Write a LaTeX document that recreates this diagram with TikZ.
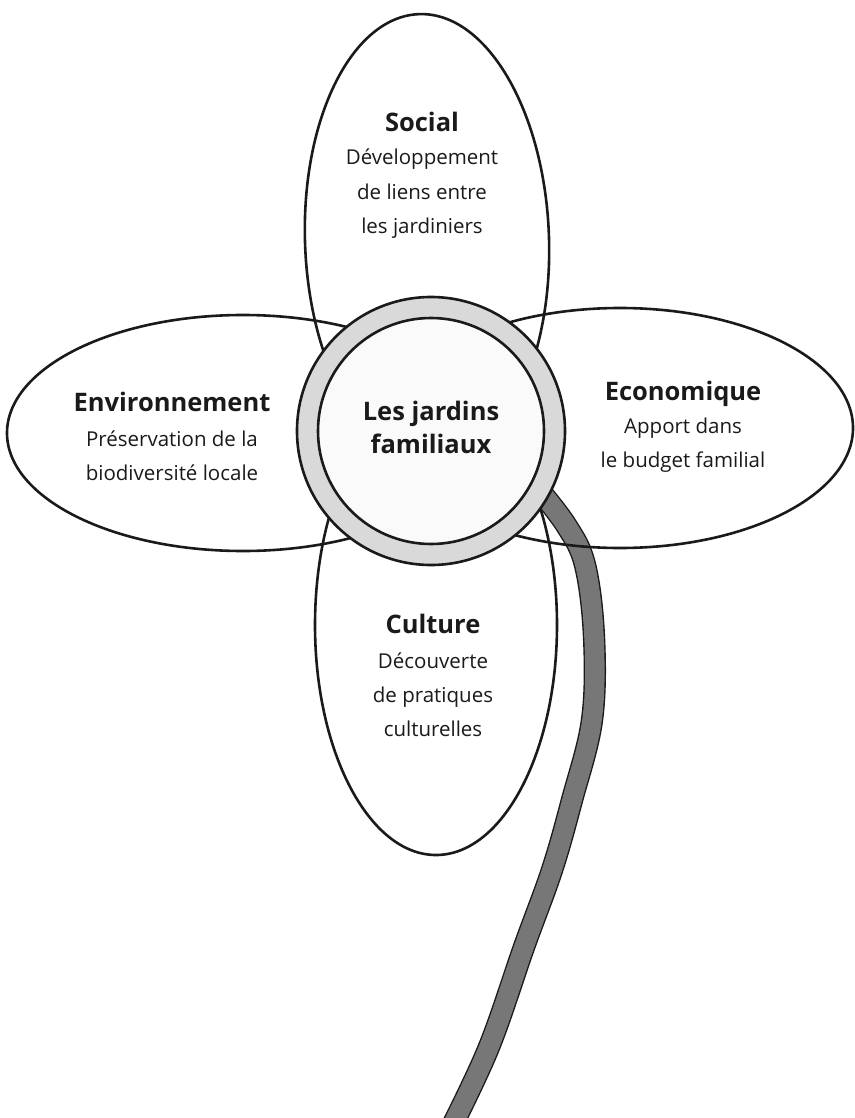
\documentclass[tikz,border=0pt]{standalone}
\usepackage{fontspec}
\setmainfont{Open Sans}
\usepackage{tikz}

\definecolor{ringgray}{HTML}{D9D9D9}
\definecolor{heartwhite}{HTML}{FAFAFA}
\definecolor{stemgray}{HTML}{777777}
\definecolor{inkblack}{HTML}{1A1A1A}

\begin{document}
\begin{tikzpicture}[x=1pt, y=-1pt,
    petal/.style={draw=inkblack, line width=2.6pt},
    titletext/.style={draw=none, inner sep=0pt, text=inkblack, font=\fontsize{25.5}{33}\selectfont\bfseries},
    bodytext/.style={draw=none, inner sep=0pt, align=center, text=inkblack, font=\fontsize{20.5}{34}\selectfont}]
    \useasboundingbox (0,0) rectangle (854,1118);

    % stem
    \draw[inkblack, line width=1.4pt, double=stemgray, double distance=19.5pt]
        plot[smooth, tension=0.6] coordinates {(535,485) (566,525) (585,565) (594,637) (592,720) (572,800) (552,870) (524,947) (489,1047) (450,1130)};

    % petals
    \draw[petal, rotate around={2:(427,240)}] (427,240) ellipse [x radius=122, y radius=226];
    \draw[petal] (436,625) ellipse [x radius=121, y radius=230];
    \draw[petal] (243,433) ellipse [x radius=236, y radius=118];
    \draw[petal] (620,428) ellipse [x radius=233, y radius=120];

    % heart
    \draw[inkblack, line width=2.6pt, fill=ringgray] (431,431) circle (134);
    \draw[inkblack, line width=2.6pt, fill=heartwhite] (431,431) circle (113);

    \node[titletext, anchor=base, align=center] (heart) at (431,453) {Les jardins\\familiaux};

    \node[titletext, anchor=base] (socialtitle) at (422,132) {Social};
    \node[bodytext, anchor=base] (socialtext) at (422,233) {Développement\\de liens entre\\les jardiniers};

    \node[titletext, anchor=base] (envtitle) at (172,411) {Environnement};
    \node[bodytext, anchor=base] (envtext) at (172,480) {Préservation de la\\biodiversité locale};

    \node[titletext, anchor=base] (ecotitle) at (683,400) {Economique};
    \node[bodytext, anchor=base] (ecotext) at (683,467) {Apport dans\\le budget familial};

    \node[titletext, anchor=base] (culturetitle) at (433,633) {Culture};
    \node[bodytext, anchor=base] (culturetext) at (433,736) {Découverte\\de pratiques\\culturelles};
\end{tikzpicture}
\end{document}
